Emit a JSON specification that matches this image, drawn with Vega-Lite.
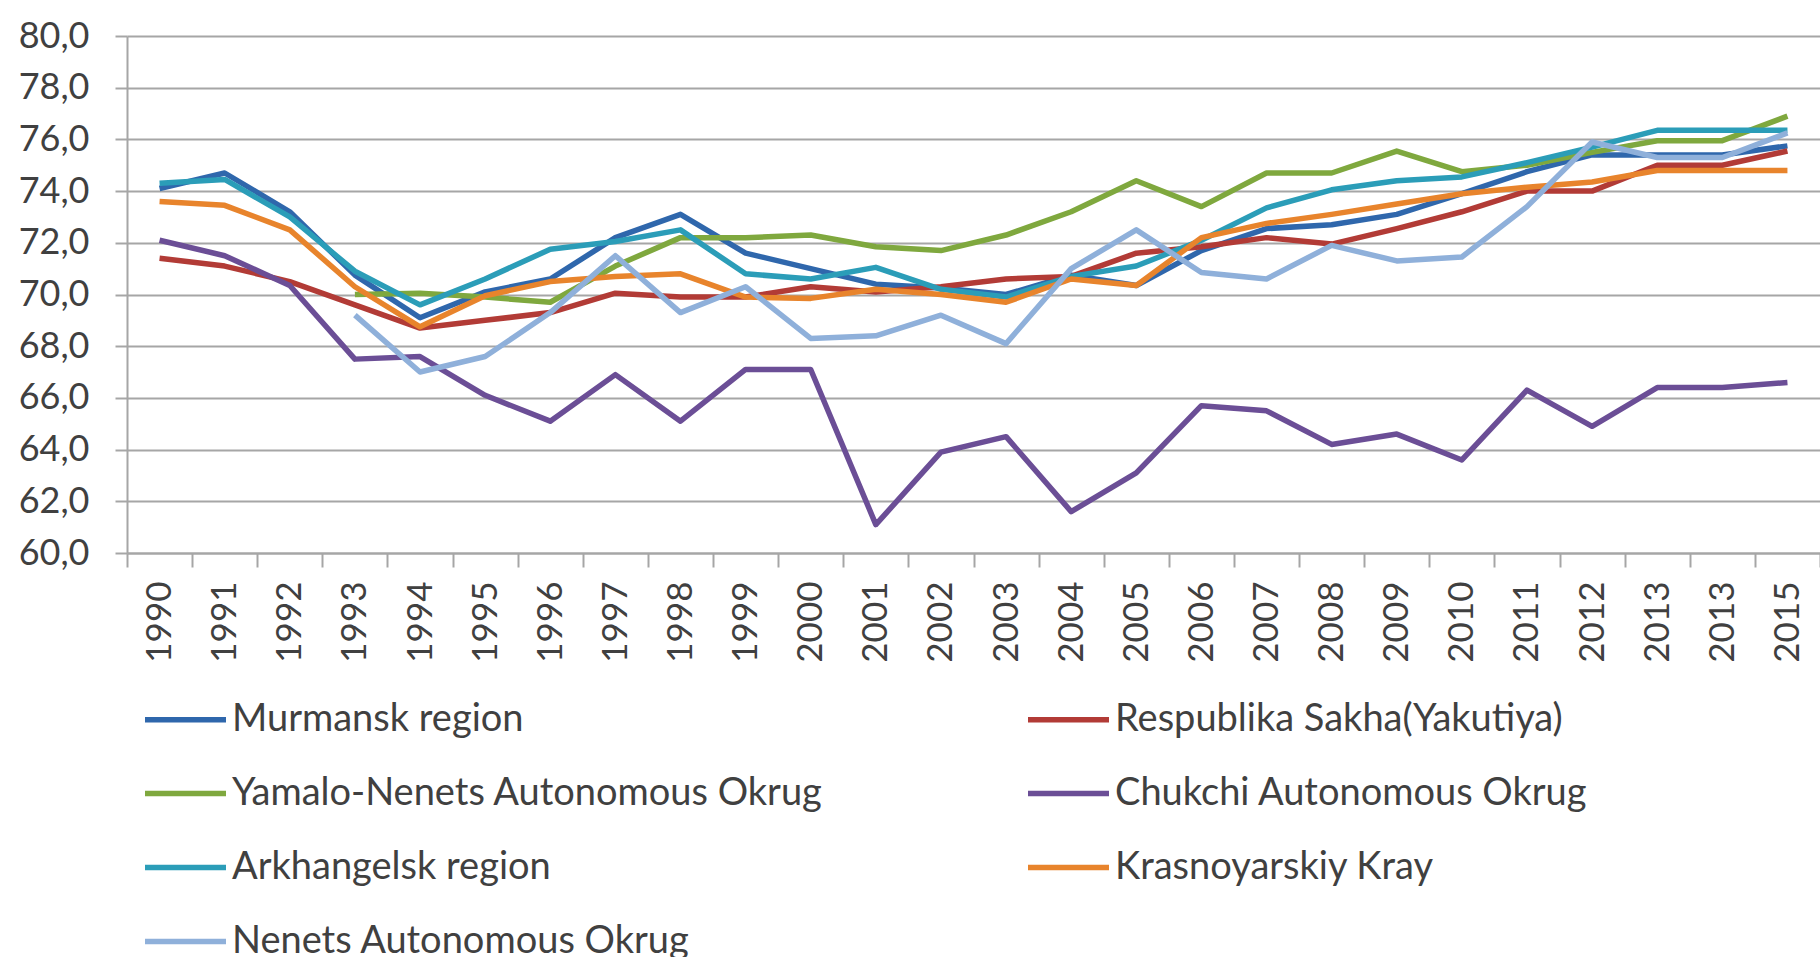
{
  "$schema": "https://vega.github.io/schema/vega-lite/v6.json",
  "autosize": {"type": "none"},
  "padding": {"left": 127, "top": 36, "right": 0, "bottom": 404},
  "width": 1693,
  "height": 517,
  "background": "white",
  "config": {
    "view": {"stroke": null},
    "font": "Lato",
    "axis": {"labelFont": "Lato", "labelColor": "#404040", "title": null}
  },
  "data": {"values": [
    {"p":"1990","s":"Murmansk region","v":74.1},{"p":"1991","s":"Murmansk region","v":74.7},{"p":"1992","s":"Murmansk region","v":73.2},{"p":"1993","s":"Murmansk region","v":70.75},{"p":"1994","s":"Murmansk region","v":69.1},{"p":"1995","s":"Murmansk region","v":70.1},{"p":"1996","s":"Murmansk region","v":70.6},{"p":"1997","s":"Murmansk region","v":72.2},{"p":"1998","s":"Murmansk region","v":73.1},{"p":"1999","s":"Murmansk region","v":71.6},{"p":"2000","s":"Murmansk region","v":71.0},{"p":"2001","s":"Murmansk region","v":70.4},{"p":"2002","s":"Murmansk region","v":70.25},{"p":"2003","s":"Murmansk region","v":70.0},{"p":"2004","s":"Murmansk region","v":70.75},{"p":"2005","s":"Murmansk region","v":70.35},{"p":"2006","s":"Murmansk region","v":71.7},{"p":"2007","s":"Murmansk region","v":72.55},{"p":"2008","s":"Murmansk region","v":72.7},{"p":"2009","s":"Murmansk region","v":73.1},{"p":"2010","s":"Murmansk region","v":73.9},{"p":"2011","s":"Murmansk region","v":74.75},{"p":"2012","s":"Murmansk region","v":75.4},{"p":"2013","s":"Murmansk region","v":75.4},{"p":"2013b","s":"Murmansk region","v":75.4},{"p":"2015","s":"Murmansk region","v":75.75},
    {"p":"1990","s":"Respublika Sakha(Yakutiya)","v":71.4},{"p":"1991","s":"Respublika Sakha(Yakutiya)","v":71.1},{"p":"1992","s":"Respublika Sakha(Yakutiya)","v":70.5},{"p":"1993","s":"Respublika Sakha(Yakutiya)","v":69.6},{"p":"1994","s":"Respublika Sakha(Yakutiya)","v":68.7},{"p":"1995","s":"Respublika Sakha(Yakutiya)","v":69.0},{"p":"1996","s":"Respublika Sakha(Yakutiya)","v":69.3},{"p":"1997","s":"Respublika Sakha(Yakutiya)","v":70.05},{"p":"1998","s":"Respublika Sakha(Yakutiya)","v":69.9},{"p":"1999","s":"Respublika Sakha(Yakutiya)","v":69.9},{"p":"2000","s":"Respublika Sakha(Yakutiya)","v":70.3},{"p":"2001","s":"Respublika Sakha(Yakutiya)","v":70.1},{"p":"2002","s":"Respublika Sakha(Yakutiya)","v":70.3},{"p":"2003","s":"Respublika Sakha(Yakutiya)","v":70.6},{"p":"2004","s":"Respublika Sakha(Yakutiya)","v":70.7},{"p":"2005","s":"Respublika Sakha(Yakutiya)","v":71.6},{"p":"2006","s":"Respublika Sakha(Yakutiya)","v":71.85},{"p":"2007","s":"Respublika Sakha(Yakutiya)","v":72.2},{"p":"2008","s":"Respublika Sakha(Yakutiya)","v":71.95},{"p":"2009","s":"Respublika Sakha(Yakutiya)","v":72.55},{"p":"2010","s":"Respublika Sakha(Yakutiya)","v":73.2},{"p":"2011","s":"Respublika Sakha(Yakutiya)","v":74.0},{"p":"2012","s":"Respublika Sakha(Yakutiya)","v":74.0},{"p":"2013","s":"Respublika Sakha(Yakutiya)","v":75.0},{"p":"2013b","s":"Respublika Sakha(Yakutiya)","v":75.0},{"p":"2015","s":"Respublika Sakha(Yakutiya)","v":75.55},
    {"p":"1993","s":"Yamalo-Nenets Autonomous Okrug","v":70.0},{"p":"1994","s":"Yamalo-Nenets Autonomous Okrug","v":70.05},{"p":"1995","s":"Yamalo-Nenets Autonomous Okrug","v":69.9},{"p":"1996","s":"Yamalo-Nenets Autonomous Okrug","v":69.7},{"p":"1997","s":"Yamalo-Nenets Autonomous Okrug","v":71.1},{"p":"1998","s":"Yamalo-Nenets Autonomous Okrug","v":72.2},{"p":"1999","s":"Yamalo-Nenets Autonomous Okrug","v":72.2},{"p":"2000","s":"Yamalo-Nenets Autonomous Okrug","v":72.3},{"p":"2001","s":"Yamalo-Nenets Autonomous Okrug","v":71.85},{"p":"2002","s":"Yamalo-Nenets Autonomous Okrug","v":71.7},{"p":"2003","s":"Yamalo-Nenets Autonomous Okrug","v":72.3},{"p":"2004","s":"Yamalo-Nenets Autonomous Okrug","v":73.2},{"p":"2005","s":"Yamalo-Nenets Autonomous Okrug","v":74.4},{"p":"2006","s":"Yamalo-Nenets Autonomous Okrug","v":73.4},{"p":"2007","s":"Yamalo-Nenets Autonomous Okrug","v":74.7},{"p":"2008","s":"Yamalo-Nenets Autonomous Okrug","v":74.7},{"p":"2009","s":"Yamalo-Nenets Autonomous Okrug","v":75.55},{"p":"2010","s":"Yamalo-Nenets Autonomous Okrug","v":74.75},{"p":"2011","s":"Yamalo-Nenets Autonomous Okrug","v":75.0},{"p":"2012","s":"Yamalo-Nenets Autonomous Okrug","v":75.5},{"p":"2013","s":"Yamalo-Nenets Autonomous Okrug","v":75.95},{"p":"2013b","s":"Yamalo-Nenets Autonomous Okrug","v":75.95},{"p":"2015","s":"Yamalo-Nenets Autonomous Okrug","v":76.9},
    {"p":"1990","s":"Chukchi Autonomous Okrug","v":72.1},{"p":"1991","s":"Chukchi Autonomous Okrug","v":71.5},{"p":"1992","s":"Chukchi Autonomous Okrug","v":70.35},{"p":"1993","s":"Chukchi Autonomous Okrug","v":67.5},{"p":"1994","s":"Chukchi Autonomous Okrug","v":67.6},{"p":"1995","s":"Chukchi Autonomous Okrug","v":66.1},{"p":"1996","s":"Chukchi Autonomous Okrug","v":65.1},{"p":"1997","s":"Chukchi Autonomous Okrug","v":66.9},{"p":"1998","s":"Chukchi Autonomous Okrug","v":65.1},{"p":"1999","s":"Chukchi Autonomous Okrug","v":67.1},{"p":"2000","s":"Chukchi Autonomous Okrug","v":67.1},{"p":"2001","s":"Chukchi Autonomous Okrug","v":61.1},{"p":"2002","s":"Chukchi Autonomous Okrug","v":63.9},{"p":"2003","s":"Chukchi Autonomous Okrug","v":64.5},{"p":"2004","s":"Chukchi Autonomous Okrug","v":61.6},{"p":"2005","s":"Chukchi Autonomous Okrug","v":63.1},{"p":"2006","s":"Chukchi Autonomous Okrug","v":65.7},{"p":"2007","s":"Chukchi Autonomous Okrug","v":65.5},{"p":"2008","s":"Chukchi Autonomous Okrug","v":64.2},{"p":"2009","s":"Chukchi Autonomous Okrug","v":64.6},{"p":"2010","s":"Chukchi Autonomous Okrug","v":63.6},{"p":"2011","s":"Chukchi Autonomous Okrug","v":66.3},{"p":"2012","s":"Chukchi Autonomous Okrug","v":64.9},{"p":"2013","s":"Chukchi Autonomous Okrug","v":66.4},{"p":"2013b","s":"Chukchi Autonomous Okrug","v":66.4},{"p":"2015","s":"Chukchi Autonomous Okrug","v":66.6},
    {"p":"1990","s":"Arkhangelsk region","v":74.3},{"p":"1991","s":"Arkhangelsk region","v":74.45},{"p":"1992","s":"Arkhangelsk region","v":73.0},{"p":"1993","s":"Arkhangelsk region","v":70.9},{"p":"1994","s":"Arkhangelsk region","v":69.6},{"p":"1995","s":"Arkhangelsk region","v":70.6},{"p":"1996","s":"Arkhangelsk region","v":71.75},{"p":"1997","s":"Arkhangelsk region","v":72.05},{"p":"1998","s":"Arkhangelsk region","v":72.5},{"p":"1999","s":"Arkhangelsk region","v":70.8},{"p":"2000","s":"Arkhangelsk region","v":70.6},{"p":"2001","s":"Arkhangelsk region","v":71.05},{"p":"2002","s":"Arkhangelsk region","v":70.2},{"p":"2003","s":"Arkhangelsk region","v":69.9},{"p":"2004","s":"Arkhangelsk region","v":70.7},{"p":"2005","s":"Arkhangelsk region","v":71.1},{"p":"2006","s":"Arkhangelsk region","v":72.1},{"p":"2007","s":"Arkhangelsk region","v":73.35},{"p":"2008","s":"Arkhangelsk region","v":74.05},{"p":"2009","s":"Arkhangelsk region","v":74.4},{"p":"2010","s":"Arkhangelsk region","v":74.55},{"p":"2011","s":"Arkhangelsk region","v":75.1},{"p":"2012","s":"Arkhangelsk region","v":75.7},{"p":"2013","s":"Arkhangelsk region","v":76.35},{"p":"2013b","s":"Arkhangelsk region","v":76.35},{"p":"2015","s":"Arkhangelsk region","v":76.35},
    {"p":"1990","s":"Krasnoyarskiy Kray","v":73.6},{"p":"1991","s":"Krasnoyarskiy Kray","v":73.45},{"p":"1992","s":"Krasnoyarskiy Kray","v":72.5},{"p":"1993","s":"Krasnoyarskiy Kray","v":70.3},{"p":"1994","s":"Krasnoyarskiy Kray","v":68.75},{"p":"1995","s":"Krasnoyarskiy Kray","v":69.95},{"p":"1996","s":"Krasnoyarskiy Kray","v":70.5},{"p":"1997","s":"Krasnoyarskiy Kray","v":70.7},{"p":"1998","s":"Krasnoyarskiy Kray","v":70.8},{"p":"1999","s":"Krasnoyarskiy Kray","v":69.9},{"p":"2000","s":"Krasnoyarskiy Kray","v":69.85},{"p":"2001","s":"Krasnoyarskiy Kray","v":70.2},{"p":"2002","s":"Krasnoyarskiy Kray","v":70.0},{"p":"2003","s":"Krasnoyarskiy Kray","v":69.7},{"p":"2004","s":"Krasnoyarskiy Kray","v":70.6},{"p":"2005","s":"Krasnoyarskiy Kray","v":70.35},{"p":"2006","s":"Krasnoyarskiy Kray","v":72.2},{"p":"2007","s":"Krasnoyarskiy Kray","v":72.75},{"p":"2008","s":"Krasnoyarskiy Kray","v":73.1},{"p":"2009","s":"Krasnoyarskiy Kray","v":73.5},{"p":"2010","s":"Krasnoyarskiy Kray","v":73.9},{"p":"2011","s":"Krasnoyarskiy Kray","v":74.15},{"p":"2012","s":"Krasnoyarskiy Kray","v":74.35},{"p":"2013","s":"Krasnoyarskiy Kray","v":74.8},{"p":"2013b","s":"Krasnoyarskiy Kray","v":74.8},{"p":"2015","s":"Krasnoyarskiy Kray","v":74.8},
    {"p":"1993","s":"Nenets Autonomous Okrug","v":69.2},{"p":"1994","s":"Nenets Autonomous Okrug","v":67.0},{"p":"1995","s":"Nenets Autonomous Okrug","v":67.6},{"p":"1996","s":"Nenets Autonomous Okrug","v":69.3},{"p":"1997","s":"Nenets Autonomous Okrug","v":71.5},{"p":"1998","s":"Nenets Autonomous Okrug","v":69.3},{"p":"1999","s":"Nenets Autonomous Okrug","v":70.3},{"p":"2000","s":"Nenets Autonomous Okrug","v":68.3},{"p":"2001","s":"Nenets Autonomous Okrug","v":68.4},{"p":"2002","s":"Nenets Autonomous Okrug","v":69.2},{"p":"2003","s":"Nenets Autonomous Okrug","v":68.1},{"p":"2004","s":"Nenets Autonomous Okrug","v":71.0},{"p":"2005","s":"Nenets Autonomous Okrug","v":72.5},{"p":"2006","s":"Nenets Autonomous Okrug","v":70.85},{"p":"2007","s":"Nenets Autonomous Okrug","v":70.6},{"p":"2008","s":"Nenets Autonomous Okrug","v":71.9},{"p":"2009","s":"Nenets Autonomous Okrug","v":71.3},{"p":"2010","s":"Nenets Autonomous Okrug","v":71.45},{"p":"2011","s":"Nenets Autonomous Okrug","v":73.4},{"p":"2012","s":"Nenets Autonomous Okrug","v":75.9},{"p":"2013","s":"Nenets Autonomous Okrug","v":75.3},{"p":"2013b","s":"Nenets Autonomous Okrug","v":75.3},{"p":"2015","s":"Nenets Autonomous Okrug","v":76.25}
  ]},
  "mark": {"type": "line", "strokeWidth": 5.5, "strokeJoin": "round"},
  "encoding": {
    "x": {
      "field": "p", "type": "ordinal",
      "scale": {"type": "band", "paddingInner": 0, "paddingOuter": 0,
        "domain": ["1990","1991","1992","1993","1994","1995","1996","1997","1998","1999","2000","2001","2002","2003","2004","2005","2006","2007","2008","2009","2010","2011","2012","2013","2013b","2015"]},
      "axis": {
        "labelExpr": "slice(datum.label, 0, 4)",
        "labelAngle": -90, "labelAlign": "right", "labelBaseline": "middle",
        "labelFontSize": 35, "labelPadding": 14,
        "tickBand": "extent", "ticks": true, "tickSize": 14, "tickColor": "#a6a6a6", "tickWidth": 2,
        "domain": true, "domainColor": "#a6a6a6", "domainWidth": 2,
        "grid": false
      }
    },
    "y": {
      "field": "v", "type": "quantitative",
      "scale": {"domain": [60, 80], "nice": false, "zero": false},
      "axis": {
        "values": [60,62,64,66,68,70,72,74,76,78,80],
        "labelExpr": "replace(format(datum.value, '.1f'), '.', ',')",
        "labelFontSize": 36, "labelPadding": 26,
        "tickSize": 12, "tickColor": "#a6a6a6", "tickWidth": 2,
        "domain": true, "domainColor": "#a6a6a6", "domainWidth": 2,
        "grid": true, "gridColor": "#a6a6a6", "gridWidth": 2
      }
    },
    "color": {
      "field": "s", "type": "nominal",
      "scale": {
        "domain": ["Murmansk region","Yamalo-Nenets Autonomous Okrug","Arkhangelsk region","Nenets Autonomous Okrug","Respublika Sakha(Yakutiya)","Chukchi Autonomous Okrug","Krasnoyarskiy Kray"],
        "range": ["#2F67AC","#7FA83E","#2B9DB8","#8FB0DA","#B23B36","#6B4E96","#E8842C"]
      },
      "legend": {
        "title": null, "orient": "none", "legendX": 15, "legendY": 640,
        "columns": 2, "gridAlign": "all", "columnPadding": 193, "rowPadding": 11,
        "padding": 0,
        "symbolType": "stroke", "symbolSize": 6561, "symbolStrokeWidth": 5.5,
        "labelFont": "Lato", "labelFontSize": 38, "labelColor": "#404040", "labelOffset": 3, "labelLimit": 0
      }
    }
  }
}
